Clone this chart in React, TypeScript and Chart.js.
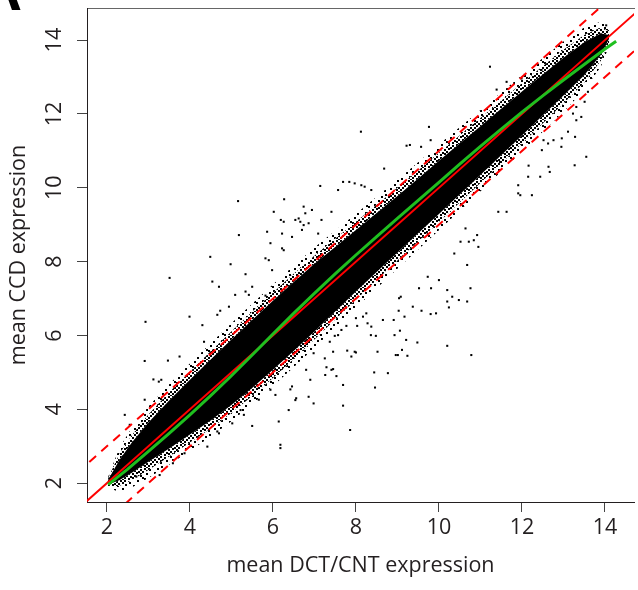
import React, { useEffect, useRef } from 'react';
import { Chart, registerables } from 'chart.js';

Chart.register(...registerables);

// ---------- text ----------
const xLabel = 'mean DCT/CNT expression';
const yLabel = 'mean CCD expression';
const panelLetter = 'A';

// ---------- axes ----------
const xTicks = [2, 4, 6, 8, 10, 12, 14];
const yTicks = [2, 4, 6, 8, 10, 12, 14];
const xRange = [1.52, 14.7];
const yRange = [1.49, 14.87];

// ---------- reference lines (y = x, y = x + 1, y = x - 1) ----------
const diagX = [1, 15];
const diagY = [1, 15];
const dashUpperY = [2, 16];
const dashLowerY = [0, 14];

// ---------- lowess fit (green) ----------
const loessX = [2.03, 2.5, 3.0, 3.5, 4.0, 4.5, 5.0, 5.5, 6.0, 6.5, 7.0, 7.5, 8.0, 8.5, 9.0, 9.5, 10.0, 10.5, 11.0, 11.5, 12.0, 12.5, 13.0, 13.5, 14.0, 14.27];
const loessY = [1.96, 2.38, 2.86, 3.35, 3.85, 4.37, 4.91, 5.47, 6.04, 6.60, 7.14, 7.67, 8.18, 8.68, 9.17, 9.66, 10.15, 10.64, 11.12, 11.59, 12.05, 12.49, 12.92, 13.34, 13.76, 13.97];

// ---------- dense point cloud, read as envelopes ----------
const bandX = [2.02, 2.3, 2.6, 3.0, 3.5, 4.0, 4.5, 5.0, 5.5, 6.0, 6.5, 7.0, 7.5, 8.0, 8.5, 9.0, 9.5, 10.0, 10.5, 11.0, 11.5, 12.0, 12.5, 13.0, 13.5, 13.9, 14.1];
const coreUpperY = [2.07, 2.63, 3.10, 3.64, 4.24, 4.80, 5.35, 5.89, 6.42, 6.94, 7.45, 7.94, 8.40, 8.86, 9.32, 9.78, 10.25, 10.73, 11.20, 11.67, 12.14, 12.61, 13.07, 13.52, 13.94, 14.18, 14.14];
const coreLowerY = [1.96, 2.08, 2.28, 2.58, 2.94, 3.32, 3.70, 4.12, 4.58, 5.07, 5.58, 6.11, 6.65, 7.19, 7.72, 8.25, 8.77, 9.29, 9.82, 10.35, 10.88, 11.42, 11.96, 12.50, 13.05, 13.60, 14.04];
const fuzzUpperY = [2.11, 2.79, 3.30, 3.86, 4.46, 5.02, 5.57, 6.11, 6.64, 7.16, 7.67, 8.16, 8.62, 9.08, 9.54, 10.00, 10.47, 10.95, 11.42, 11.89, 12.36, 12.83, 13.29, 13.74, 14.14, 14.34, 14.24];
const fuzzLowerY = [1.92, 1.92, 2.08, 2.36, 2.72, 3.10, 3.48, 3.90, 4.36, 4.85, 5.36, 5.89, 6.43, 6.97, 7.50, 8.03, 8.55, 9.07, 9.60, 10.13, 10.66, 11.20, 11.74, 12.28, 12.85, 13.44, 13.94];
const sparseUpperY = [2.15, 2.95, 3.50, 4.08, 4.68, 5.24, 5.79, 6.33, 6.86, 7.38, 7.89, 8.38, 8.84, 9.30, 9.76, 10.22, 10.69, 11.17, 11.64, 12.11, 12.58, 13.05, 13.51, 13.96, 14.34, 14.50, 14.34];
const sparseLowerY = [1.88, 1.76, 1.88, 2.14, 2.50, 2.88, 3.26, 3.68, 4.14, 4.63, 5.14, 5.67, 6.21, 6.75, 7.28, 7.81, 8.33, 8.85, 9.38, 9.91, 10.44, 10.98, 11.52, 12.06, 12.65, 13.28, 13.84];

// ---------- individual outlying genes ----------
const outliersAbove: [number, number][] = [
  [2.43, 3.85], [2.55, 3.58], [2.91, 4.26], [2.91, 5.31], [2.93, 6.37], [3.12, 4.81], [3.25, 4.75], [3.31, 4.80],
  [3.47, 5.32], [3.51, 7.56], [3.75, 5.43], [3.99, 6.51], [4.30, 6.28], [4.34, 5.83], [4.49, 8.13], [4.54, 7.46],
  [4.70, 7.32], [4.66, 6.56], [4.73, 6.67], [4.94, 6.78], [4.98, 7.93], [5.09, 7.10], [5.16, 9.64], [5.18, 8.72],
  [5.34, 7.66], [5.34, 7.19], [5.42, 7.10], [5.50, 7.32], [5.82, 7.08], [5.82, 8.09], [5.86, 8.81], [5.90, 8.04],
  [5.94, 8.50], [5.98, 7.77], [6.02, 9.35], [6.19, 9.13], [6.22, 8.36], [6.22, 8.76], [6.26, 9.08], [6.26, 8.31],
  [6.27, 9.69], [6.46, 8.67], [6.54, 9.13], [6.62, 9.17], [6.66, 9.08], [6.70, 8.86], [6.74, 9.49], [6.74, 8.99],
  [6.78, 9.31], [6.86, 9.04], [6.94, 9.40], [7.09, 8.76], [7.14, 10.05], [7.17, 9.13], [7.41, 9.35], [7.57, 9.94],
  [7.69, 10.16], [7.84, 10.16], [7.97, 10.12], [8.12, 11.52], [8.13, 10.07], [8.21, 10.03], [8.37, 9.94], [8.68, 10.52],
  [9.22, 11.14], [9.30, 11.16], [9.57, 11.11], [9.76, 11.65], [9.80, 11.29], [11.23, 13.28], [11.39, 12.66], [11.63, 12.87],
  [11.99, 12.96], [12.47, 13.19], [14.03, 14.40],
];
const outliersBelow: [number, number][] = [
  [2.71, 2.18], [3.27, 2.22], [3.59, 2.54], [3.87, 2.81], [4.42, 2.99], [4.66, 3.40], [4.70, 3.35], [5.02, 3.62],
  [5.22, 3.98], [5.30, 3.85], [5.38, 4.44], [5.50, 3.55], [5.66, 4.26], [5.94, 4.53], [6.06, 4.39], [6.14, 3.67],
  [6.18, 3.04], [6.18, 2.95], [6.38, 3.98], [6.42, 4.54], [6.46, 4.62], [6.54, 4.25], [6.56, 4.30], [6.80, 5.07],
  [6.86, 4.34], [6.90, 4.80], [6.98, 4.16], [6.98, 5.52], [7.25, 5.38], [7.26, 4.93], [7.29, 5.14], [7.37, 5.83],
  [7.41, 5.07], [7.45, 5.56], [7.45, 5.09], [7.49, 5.99], [7.53, 4.90], [7.57, 6.01], [7.65, 6.15], [7.69, 4.66],
  [7.69, 4.10], [7.77, 6.26], [7.79, 5.59], [7.86, 3.44], [7.89, 5.43], [7.97, 5.56], [8.00, 5.54], [8.00, 6.47],
  [8.03, 6.26], [8.17, 6.51], [8.25, 6.60], [8.28, 6.33], [8.36, 6.01], [8.37, 6.24], [8.44, 5.00], [8.46, 4.59],
  [8.48, 5.99], [8.52, 5.56], [8.65, 6.42], [8.77, 4.98], [8.91, 6.42], [8.93, 6.01], [8.96, 5.47], [9.01, 5.47],
  [9.03, 6.67], [9.04, 7.01], [9.06, 6.13], [9.08, 7.05], [9.11, 5.61], [9.17, 6.51], [9.21, 5.88], [9.24, 5.45],
  [9.37, 6.78], [9.48, 5.81], [9.52, 7.28], [9.58, 6.67], [9.73, 7.59], [9.80, 6.58], [9.81, 7.28], [9.93, 6.60],
  [10.00, 7.50], [10.20, 5.72], [10.20, 6.92], [10.20, 7.23], [10.24, 6.76], [10.32, 7.05], [10.37, 8.22], [10.48, 6.96],
  [10.52, 8.54], [10.64, 8.90], [10.68, 6.92], [10.68, 7.91], [10.72, 8.54], [10.76, 7.28], [10.78, 5.47], [10.84, 8.58],
  [10.92, 8.72], [10.95, 8.40], [11.43, 9.35], [11.47, 10.70], [11.63, 9.35], [11.91, 9.85], [11.91, 10.07], [11.96, 9.80],
  [12.15, 10.30], [12.16, 10.60], [12.24, 9.80], [12.44, 10.30], [12.48, 11.02], [12.52, 11.29], [12.63, 11.20], [12.64, 10.57],
  [12.67, 10.43], [12.76, 11.29], [12.95, 11.11], [12.96, 11.34], [13.11, 11.52], [13.23, 12.01], [13.27, 10.61], [13.28, 11.38],
  [13.31, 11.83], [13.31, 12.19], [13.43, 11.92], [13.51, 12.33], [13.55, 10.84], [13.59, 12.60],
];

// ---------- styles ----------
const FONT_FAMILY = '"Open Sans", "Noto Sans", "DejaVu Sans", sans-serif';
const TEXT_COLOR = '#231f20';
const AXIS_COLOR = '#231f20';
const RED = '#ff0000';
const GREEN = '#1fbf1f';
const DENSE_CELLS = [[0, 0], [4, 0], [8, 1], [2, 2], [6, 3], [10, 3], [0, 5], [4, 4], [8, 5], [2, 7], [6, 7], [10, 8], [0, 9], [4, 9], [8, 10], [2, 11]];
const SPARSE_CELLS = [[1, 2], [9, 0], [5, 5], [13, 4], [2, 9], [10, 8], [6, 12], [14, 13], [0, 14], [12, 11]];

function makePattern(size: number, cells: number[][], fallback: string): CanvasPattern | string {
  const c = document.createElement('canvas');
  c.width = size;
  c.height = size;
  const g = c.getContext('2d');
  if (!g) return fallback;
  g.fillStyle = '#000';
  for (const [a, b] of cells) g.fillRect(a, b, 2, 2);
  return g.createPattern(c, 'repeat') || fallback;
}

const pts = (xs: number[], ys: number[]) => xs.map((x, i) => ({ x, y: ys[i] }));

const panelLetterPlugin = {
  id: 'panelLetter',
  afterDraw(chart: any) {
    const ctx = chart.ctx;
    ctx.save();
    ctx.fillStyle = '#000';
    ctx.font = 'bold 60px "Liberation Sans", Arial, sans-serif';
    ctx.textAlign = 'right';
    ctx.textBaseline = 'alphabetic';
    ctx.fillText(panelLetter, 22, 10);
    ctx.restore();
  },
};

export default function App() {
  const canvasRef = useRef<HTMLCanvasElement | null>(null);

  useEffect(() => {
    const canvas = canvasRef.current;
    if (!canvas) return;
    const dense = makePattern(12, DENSE_CELLS, 'rgba(0,0,0,0.42)');
    const sparse = makePattern(16, SPARSE_CELLS, 'rgba(0,0,0,0.15)');
    const tickFont = { family: FONT_FAMILY, size: 21.5 };
    const edge = { borderWidth: 0, borderColor: 'rgba(0,0,0,0)', pointRadius: 0 };

    const chart = new Chart(canvas, {
      type: 'line',
      data: {
        datasets: [
          { label: 'lowess', data: pts(loessX, loessY), borderColor: GREEN, borderWidth: 3, pointRadius: 0, fill: false },
          { label: 'y = x', data: pts(diagX, diagY), borderColor: RED, borderWidth: 2, pointRadius: 0, fill: false },
          { label: 'y = x + 1', data: pts(diagX, dashUpperY), borderColor: RED, borderWidth: 2, borderDash: [9, 7], pointRadius: 0, fill: false },
          { label: 'y = x - 1', data: pts(diagX, dashLowerY), borderColor: RED, borderWidth: 2, borderDash: [9, 7], pointRadius: 0, fill: false },
          {
            label: 'genes',
            data: [...outliersAbove, ...outliersBelow].map(([x, y]) => ({ x, y })),
            showLine: false,
            pointStyle: 'rect',
            pointRadius: 1.45,
            pointBorderWidth: 0,
            pointBackgroundColor: '#000',
            backgroundColor: '#000',
            borderColor: '#000',
            fill: false,
          },
          { label: 'core upper', data: pts(bandX, coreUpperY), ...edge, fill: { target: 6 }, backgroundColor: '#000' },
          { label: 'core lower', data: pts(bandX, coreLowerY), ...edge, fill: false },
          { label: 'fuzz upper', data: pts(bandX, fuzzUpperY), ...edge, fill: { target: 5 }, backgroundColor: dense },
          { label: 'fuzz lower', data: pts(bandX, fuzzLowerY), ...edge, fill: { target: 6 }, backgroundColor: dense },
          { label: 'sparse upper', data: pts(bandX, sparseUpperY), ...edge, fill: { target: 7 }, backgroundColor: sparse },
          { label: 'sparse lower', data: pts(bandX, sparseLowerY), ...edge, fill: { target: 8 }, backgroundColor: sparse },
        ] as any,
      },
      options: {
        responsive: false,
        animation: false,
        devicePixelRatio: 1,
        layout: { padding: 0 },
        elements: { line: { tension: 0 } },
        plugins: {
          legend: { display: false },
          tooltip: { enabled: false },
          filler: { drawTime: 'beforeDatasetsDraw', propagate: false },
        } as any,
        scales: {
          x: {
            type: 'linear',
            position: 'bottom',
            min: xRange[0],
            max: xRange[1],
            afterBuildTicks: (s: any) => { s.ticks = xTicks.map((v) => ({ value: v })); },
            afterFit: (s: any) => { s.height = 88; s.paddingLeft = 0; s.paddingRight = 0; },
            ticks: { font: tickFont, color: TEXT_COLOR, padding: 3, minRotation: 0, maxRotation: 0, autoSkip: false },
            grid: { display: true, drawOnChartArea: false, drawTicks: true, tickLength: 10, tickColor: '#444', tickWidth: 1 },
            border: { display: true, color: AXIS_COLOR, width: 1 },
            title: { display: true, text: xLabel, font: tickFont, color: TEXT_COLOR, padding: { top: 0, bottom: 11 } },
          },
          x2: {
            type: 'linear',
            position: 'top',
            display: true,
            min: xRange[0],
            max: xRange[1],
            afterFit: (s: any) => { s.height = 8; s.paddingLeft = 0; s.paddingRight = 0; },
            ticks: { display: false },
            grid: { display: false, drawTicks: false },
            border: { display: true, color: '#666', width: 1 },
          },
          y: {
            type: 'linear',
            position: 'left',
            min: yRange[0],
            max: yRange[1],
            afterBuildTicks: (s: any) => { s.ticks = yTicks.map((v) => ({ value: v })); },
            afterFit: (s: any) => { s.width = 87; s.paddingTop = 0; s.paddingBottom = 0; },
            ticks: { font: tickFont, color: TEXT_COLOR, padding: 9.5, minRotation: 90, maxRotation: 90, crossAlign: 'center', autoSkip: false },
            grid: { display: true, drawOnChartArea: false, drawTicks: true, tickLength: 10, tickColor: '#444', tickWidth: 1 },
            border: { display: true, color: AXIS_COLOR, width: 1 },
            title: { display: true, text: yLabel, font: tickFont, color: TEXT_COLOR, padding: { top: 6, bottom: 0 } },
          },
        } as any,
      },
      plugins: [panelLetterPlugin],
    });
    return () => chart.destroy();
  }, []);

  return (
    <div style={{ position: 'absolute', left: 0, top: 0, width: 638, height: 590, background: '#fff' }}>
      <canvas ref={canvasRef} width={638} height={590} style={{ display: 'block', width: 638, height: 590 }} />
    </div>
  );
}
